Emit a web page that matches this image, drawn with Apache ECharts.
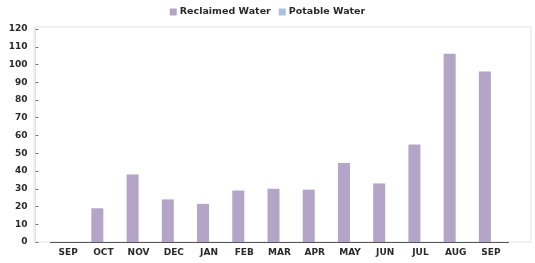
<!DOCTYPE html>
<html>
<head>
<meta charset="utf-8">
<script src="https://cdn.jsdelivr.net/npm/echarts@6/dist/echarts.min.js"></script>
<style>
  html, body { margin: 0; padding: 0; background: #fff; }
  #chart { width: 535px; height: 263px; }
</style>
</head>
<body>
<div id="chart"></div>
<script>
// months on the x axis
const months = ["SEP", "OCT", "NOV", "DEC", "JAN", "FEB", "MAR", "APR", "MAY", "JUN", "JUL", "AUG", "SEP"];
// reclaimed water per month
const reclaimed = [0, 19, 38, 24, 21.5, 29, 30, 29.5, 44.5, 33, 55, 106, 96];
// potable water per month
const potable = [0, 0, 0, 0, 0, 0, 0, 0, 0, 0, 0, 0, 0];

const chart = echarts.init(document.getElementById("chart"));

const labelFont = {
  fontFamily: "DejaVu Sans",
  fontWeight: "bold",
  fontSize: 9,
  color: "#2a2a2a",
};

const option = {
  animation: false,
  backgroundColor: "#fff",
  legend: {
    top: 2,
    left: "center",
    itemWidth: 7,
    itemHeight: 7,
    itemGap: 8,
    icon: "rect",
    textStyle: { fontFamily: "DejaVu Sans", fontWeight: "bold", fontSize: 9.5, color: "#2a2a2a", padding: [0, 0, 0, -2] },
    data: ["Reclaimed Water", "Potable Water"],
  },
  grid: [
    // frame around the plot
    { left: 34, right: 4, top: 27, bottom: 21, show: true, borderColor: "#e2e2e2", borderWidth: 1 },
    // actual bar area
    { left: 50.5, right: 26.5, top: 29, bottom: 21 },
  ],
  xAxis: [
    { gridIndex: 0, type: "value", show: false },
    {
      gridIndex: 1,
      type: "category",
      data: months,
      axisLine: { lineStyle: { color: "#555", width: 1 } },
      axisTick: { show: false },
      axisLabel: Object.assign({ margin: 6 }, labelFont),
    },
  ],
  yAxis: [
    { gridIndex: 0, type: "value", show: false },
    {
      gridIndex: 1,
      type: "value",
      min: 0,
      max: 120,
      interval: 10,
      offset: 15,
      axisLine: { show: true, lineStyle: { color: "#e0e0e0" } },
      axisTick: { show: true, length: 3, inside: true, lineStyle: { color: "#777" } },
      splitLine: { show: false },
      axisLabel: Object.assign({ margin: 8 }, labelFont),
    },
  ],
  series: [
    {
      name: "Reclaimed Water",
      type: "bar",
      xAxisIndex: 1,
      yAxisIndex: 1,
      data: reclaimed,
      barWidth: 12,
      barGap: "0%",
      itemStyle: { color: "#b4a4c8" },
    },
    {
      name: "Potable Water",
      type: "bar",
      xAxisIndex: 1,
      yAxisIndex: 1,
      data: potable,
      barWidth: 12,
      itemStyle: { color: "#a9c0de" },
    },
  ],
};

chart.setOption(option);
</script>
</body>
</html>
